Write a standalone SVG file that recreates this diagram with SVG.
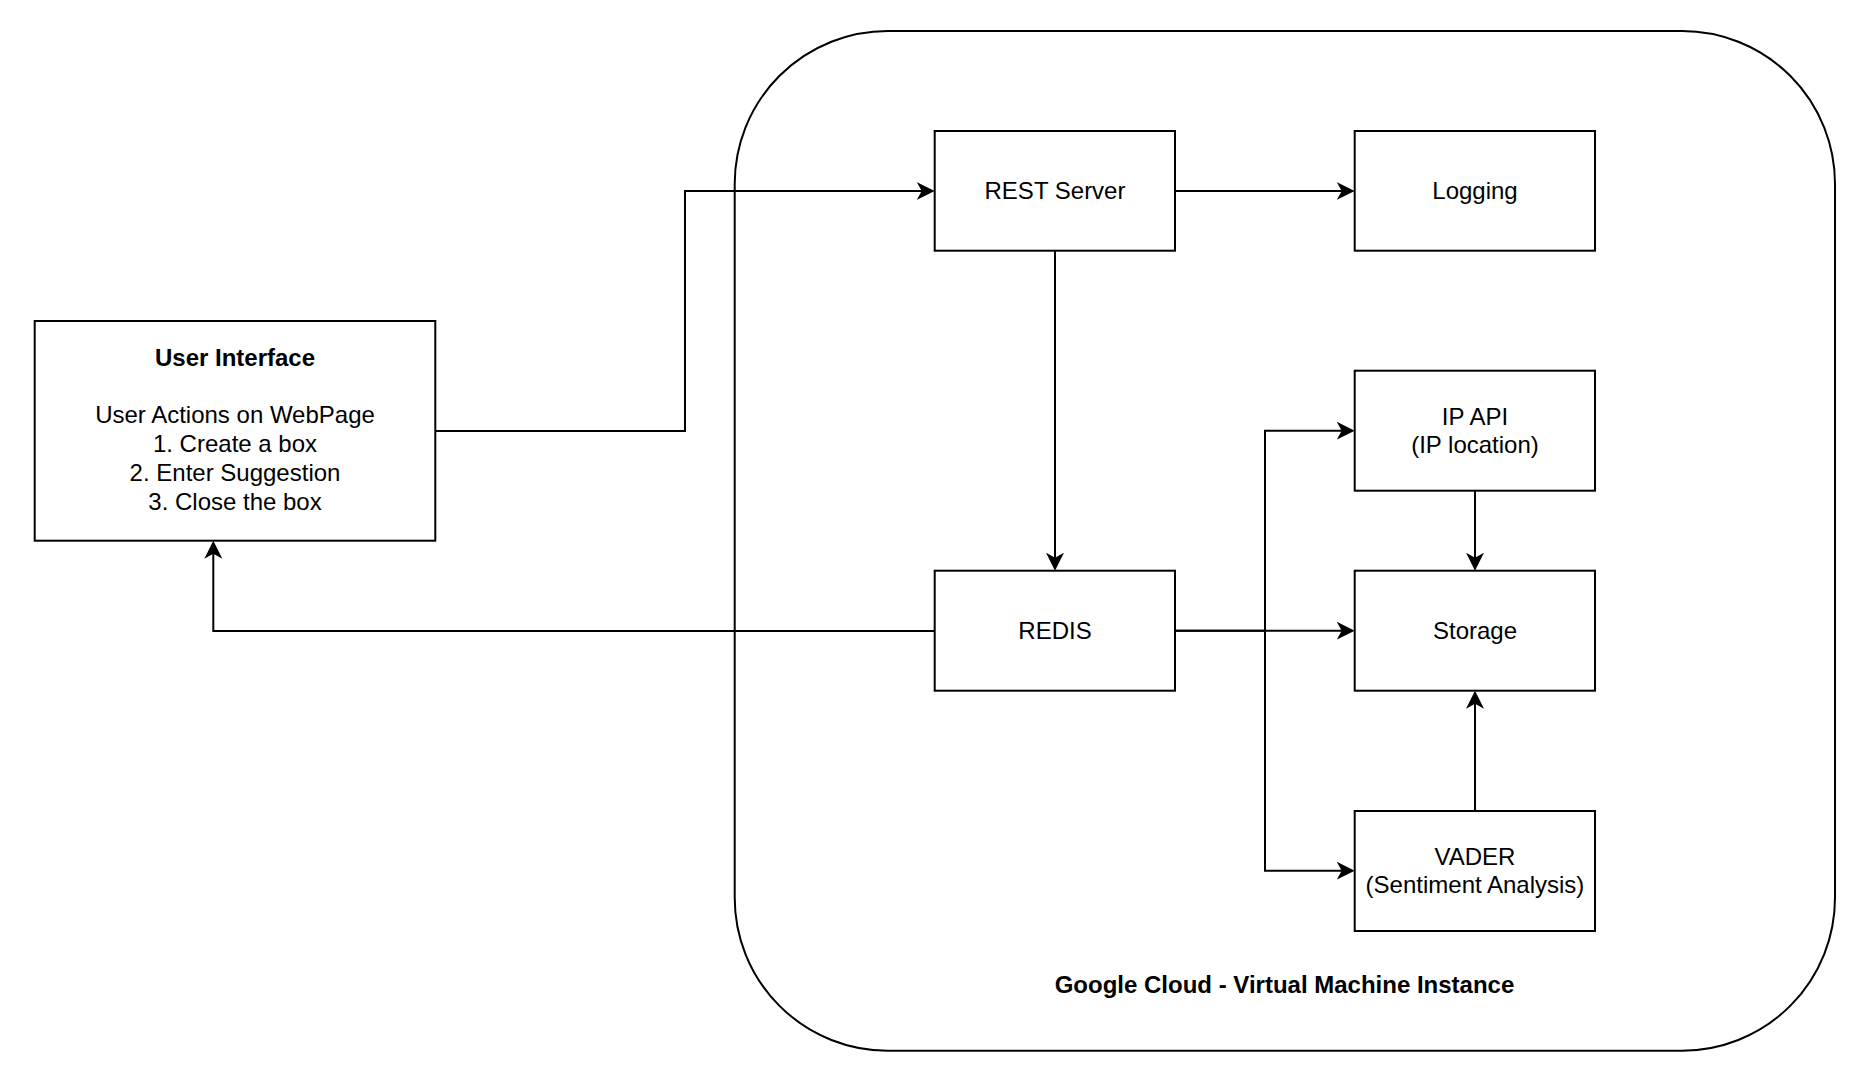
<svg xmlns="http://www.w3.org/2000/svg" width="1876" height="1080" viewBox="0 0 1876 1080">
<style>
.box{fill:#ffffff;stroke:#000000;stroke-width:2}
.cont{fill:#ffffff;stroke:#000000;stroke-width:2}
.t{font-family:"Liberation Sans",Arial,Helvetica,sans-serif;font-size:24px;fill:#000000;text-anchor:middle}
.b{font-weight:bold}
.edge{fill:none;stroke:#000000;stroke-width:2}
</style>
<defs>
<marker id="arr" markerUnits="userSpaceOnUse" markerWidth="18" markerHeight="18" viewBox="0 0 18 18" refX="8" refY="9" orient="auto">
<path d="M0,0 L18,9 L0,18 L5,9 Z" fill="#000000"/>
</marker>
</defs>
<rect width="1876" height="1080" fill="#ffffff"/>
<g id="gcloud">
<rect class="cont" x="734.7" y="31" width="1100.3" height="1019.7" rx="153" ry="153"/>
<text class="t b" x="1284.5" y="993">Google Cloud - Virtual Machine Instance</text>
</g>
<g id="user-interface">
<rect class="box" x="34.7" y="321" width="400.6" height="219.7"/>
<text class="t b" x="235" y="365.5">User Interface</text>
<text class="t" x="235" y="423.1">User Actions on WebPage</text>
<text class="t" x="235" y="451.9">1. Create a box</text>
<text class="t" x="235" y="480.7">2. Enter Suggestion</text>
<text class="t" x="235" y="509.5">3. Close the box</text>
</g>
<g id="rest-server">
<rect class="box" x="934.7" y="131" width="240.3" height="119.7"/>
<text class="t" x="1055" y="199">REST Server</text>
</g>
<g id="logging">
<rect class="box" x="1354.7" y="131" width="240.3" height="119.7"/>
<text class="t" x="1475" y="199">Logging</text>
</g>
<g id="ip-api">
<rect class="box" x="1354.7" y="370.7" width="240.3" height="120"/>
<text class="t" x="1475" y="424.5">IP API</text>
<text class="t" x="1475" y="453.3">(IP location)</text>
</g>
<g id="redis">
<rect class="box" x="934.7" y="570.7" width="240.3" height="120"/>
<text class="t" x="1055" y="638.5">REDIS</text>
</g>
<g id="storage">
<rect class="box" x="1354.7" y="570.7" width="240.3" height="120"/>
<text class="t" x="1475" y="638.5">Storage</text>
</g>
<g id="vader">
<rect class="box" x="1354.7" y="811" width="240.3" height="120"/>
<text class="t" x="1475" y="864.5">VADER</text>
<text class="t" x="1475" y="893.3">(Sentiment Analysis)</text>
</g>
<g id="connectors">
<path class="edge" marker-end="url(#arr)" d="M435.3,431 H685 V191 H924.7"/>
<path class="edge" marker-end="url(#arr)" d="M1175,191 H1344.7"/>
<path class="edge" marker-end="url(#arr)" d="M1055,250.7 V560.7"/>
<path class="edge" marker-end="url(#arr)" d="M934.7,631 H213.3 V550.7"/>
<path class="edge" marker-end="url(#arr)" d="M1175,630.7 H1344.7"/>
<path class="edge" marker-end="url(#arr)" d="M1175,630.7 H1265 V430.7 H1344.7"/>
<path class="edge" marker-end="url(#arr)" d="M1265,630.7 V870.7 H1344.7"/>
<path class="edge" marker-end="url(#arr)" d="M1475,490.7 V560.7"/>
<path class="edge" marker-end="url(#arr)" d="M1475,811 V700.7"/>
</g>
</svg>
